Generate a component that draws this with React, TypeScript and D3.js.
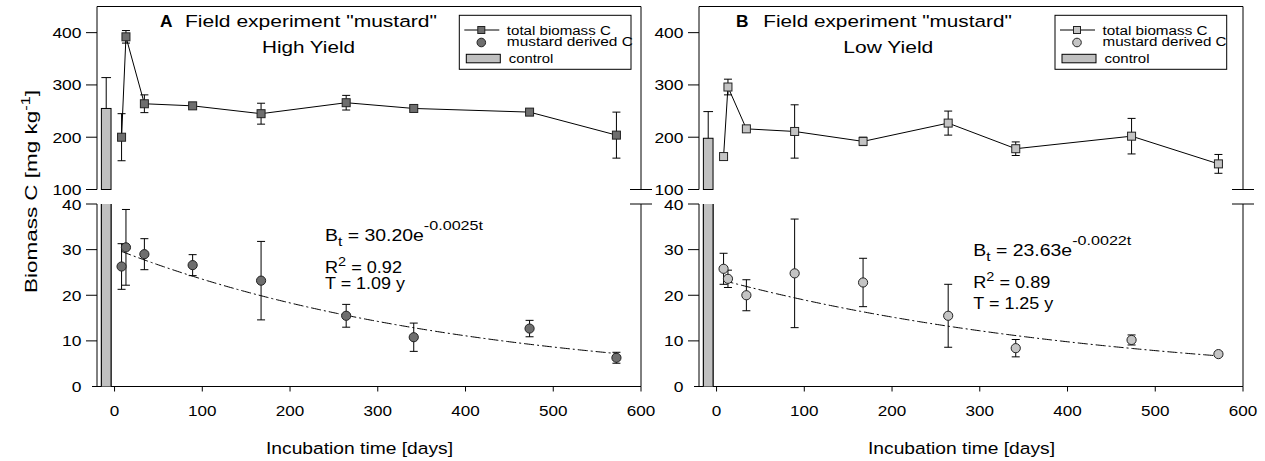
import * as d3 from 'd3';

// sampling days (same for both fields)
const days = [8, 13, 34, 89, 167, 264, 341, 473, 572];

// A: high yield
const totalA = [200, 392, 264, 260, 245, 266, 255, 248, 204];
const totalAErr = [45, 12, 17, 3, 20, 14, 3, 2, 44];
const mustardA = [26.3, 30.5, 29, 26.6, 23.2, 15.5, 10.8, 12.7, 6.3];
const mustardAErr = [5, 8.3, 3.4, 2.3, 8.6, 2.5, 3.1, 1.8, 1.2];
const controlA = 255;
const controlAErr = 59;

// B: low yield
const totalB = [163, 296, 216, 211, 192, 227, 178, 202, 149];
const totalBErr = [2, 15, 3, 51, 8, 23, 13, 34, 18];
const mustardB = [25.8, 23.6, 20, 24.8, 22.8, 15.5, 8.4, 10.2, 7.1];
const mustardBErr = [3.4, 1.9, 3.4, 11.9, 5.3, 6.9, 1.9, 1.1, 0.5];
const controlB = 198;
const controlBErr = 51;

// fitted decay B_t = a * e^(-k t)
const fitA = { a: 30.2, k: 0.0025, r2: '0.92', T: '1.09' };
const fitB = { a: 23.63, k: 0.0022, r2: '0.89', T: '1.25' };

const xTicks = [0, 100, 200, 300, 400, 500, 600];
const upperTicks = [100, 200, 300, 400];
const lowerTicks = [0, 10, 20, 30, 40];
const legendLabels = ['total biomass C', 'mustard derived C', 'control'];

const FONT = '"Liberation Sans", Arial, sans-serif';
const Y_TOP = 6.5;
const Y_BRK_UP = 189.5;
const Y_BRK_LO = 204;
const Y_BOT = 386.5;

const yUp = d3.scaleLinear().domain([100, 450]).range([Y_BRK_UP, Y_TOP]);
const yLo = d3.scaleLinear().domain([0, 40]).range([Y_BOT, Y_BRK_LO]);

type TxtProps = {
  x: number;
  y: number;
  len?: number;
  size?: number;
  anchor?: string;
  bold?: boolean;
  transform?: string;
  children: React.ReactNode;
};

function Txt({ x, y, len, size = 16.3, anchor = 'start', bold, transform, children }: TxtProps) {
  return (
    <text
      x={x}
      y={y}
      fontSize={size}
      fontFamily={FONT}
      fontWeight={bold ? 'bold' : 'normal'}
      textAnchor={anchor}
      textLength={len}
      lengthAdjust={len ? 'spacingAndGlyphs' : undefined}
      transform={transform}
      fill="#000"
    >
      {children}
    </text>
  );
}

type Layout = {
  left: number;
  letter: string;
  title: string;
  letterX: number;
  titleX: number;
  titleLen: number;
  subX: number;
  subLen: number;
  legendX: number;
  legendLens: number[];
  eqX: number;
  eqY: number;
  r2Y: number;
  tY: number;
  xTitleX: number;
  fill: string;
};

type Series = {
  total: number[];
  totalErr: number[];
  mustard: number[];
  mustardErr: number[];
  control: number;
  controlErr: number;
  fit: { a: number; k: number; r2: string; T: string };
};

function Panel({ L, S }: { L: Layout; S: Series }) {
  const x = d3.scaleLinear().domain([-20, 600]).range([L.left, L.left + 544]);
  const right = x(600);
  const left = x(-20);
  const totalLine = d3
    .line<number>()
    .x((_, i) => x(days[i]))
    .y((d) => yUp(d));
  const fitT = d3.range(days[0], days[days.length - 1] + 0.1, 2);
  const fitLine = d3
    .line<number>()
    .x((t) => x(t))
    .y((t) => yLo(S.fit.a * Math.exp(-S.fit.k * t)));
  const bx0 = x(-15);
  const bx1 = x(-4);
  const bxc = (bx0 + bx1) / 2;
  const cap = 4;
  const lx = L.legendX;

  return (
    <g>
      {/* frame, split by the axis break */}
      <g stroke="#000" strokeWidth={1} fill="none">
        <path d={`M${left},${Y_BRK_UP}V${Y_TOP}H${right}V${Y_BRK_UP}`} />
        <path d={`M${left},${Y_BRK_LO}V${Y_BOT}M${right},${Y_BRK_LO}V${Y_BOT}`} />
        <line x1={left - 5} x2={right} y1={Y_BOT} y2={Y_BOT} />
        <line x1={right - 11} x2={right + 11} y1={Y_BRK_UP} y2={Y_BRK_UP} />
        <line x1={right - 11} x2={right + 11} y1={Y_BRK_LO} y2={Y_BRK_LO} />
        {upperTicks.map((t) => (
          <line key={'u' + t} x1={left - 11} x2={left} y1={yUp(t)} y2={yUp(t)} />
        ))}
        {lowerTicks.slice(1).map((t) => (
          <line key={'l' + t} x1={left - 11} x2={left} y1={yLo(t)} y2={yLo(t)} />
        ))}
        {xTicks.map((t) => (
          <line key={'x' + t} x1={x(t)} x2={x(t)} y1={Y_BOT} y2={Y_BOT + 5} />
        ))}
      </g>

      {upperTicks.map((t) => (
        <Txt key={'ut' + t} x={left - 15.5} y={yUp(t) + 5.5} anchor="end" size={15.5} len={String(t).length * 9.7}>
          {t}
        </Txt>
      ))}
      {lowerTicks.map((t) => (
        <Txt key={'lt' + t} x={left - 15.5} y={yLo(t) + 5.5} anchor="end" size={15.5} len={String(t).length * 9.7}>
          {t}
        </Txt>
      ))}
      {xTicks.map((t) => (
        <Txt key={'xt' + t} x={x(t)} y={416} anchor="middle" size={15.5} len={String(t).length * 9.5}>
          {t}
        </Txt>
      ))}
      <Txt x={L.xTitleX} y={454} len={187}>
        Incubation time [days]
      </Txt>

      {/* control bar, drawn in both segments */}
      <g fill="#c0c0c0" stroke="#000" strokeWidth={1}>
        <rect x={bx0} y={yUp(S.control)} width={bx1 - bx0} height={Y_BRK_UP - yUp(S.control)} />
        <path d={`M${bx0},${Y_BOT}V${Y_BRK_LO}M${bx1},${Y_BRK_LO}V${Y_BOT}`} />
        <rect x={bx0} y={Y_BRK_LO} width={bx1 - bx0} height={Y_BOT - Y_BRK_LO} stroke="none" />
        <path d={`M${bx0},${Y_BOT}V${Y_BRK_LO}M${bx1},${Y_BRK_LO}V${Y_BOT}`} fill="none" />
      </g>
      <g stroke="#000" strokeWidth={1}>
        <line x1={bxc} x2={bxc} y1={yUp(S.control)} y2={yUp(S.control + S.controlErr)} />
        <line x1={bx0} x2={bx1} y1={yUp(S.control + S.controlErr)} y2={yUp(S.control + S.controlErr)} />
      </g>

      {/* total biomass C */}
      <path d={totalLine(S.total) ?? ''} fill="none" stroke="#000" strokeWidth={1} />
      <g stroke="#000" strokeWidth={1}>
        {S.total.map((v, i) => {
          const cx = x(days[i]);
          const y0 = yUp(v + S.totalErr[i]);
          const y1 = yUp(v - S.totalErr[i]);
          return (
            <g key={'te' + i}>
              <line x1={cx} x2={cx} y1={y0} y2={y1} />
              <line x1={cx - cap} x2={cx + cap} y1={y0} y2={y0} />
              <line x1={cx - cap} x2={cx + cap} y1={y1} y2={y1} />
            </g>
          );
        })}
      </g>
      {S.total.map((v, i) => (
        <rect
          key={'ts' + i}
          x={x(days[i]) - 4}
          y={yUp(v) - 4}
          width={8}
          height={8}
          fill={L.fill}
          stroke="#222"
          strokeWidth={1}
        />
      ))}

      {/* mustard derived C and fit */}
      <path d={fitLine(fitT) ?? ''} fill="none" stroke="#000" strokeWidth={1} strokeDasharray="10,3,2,3" />
      <g stroke="#000" strokeWidth={1}>
        {S.mustard.map((v, i) => {
          const cx = x(days[i]);
          const y0 = yLo(v + S.mustardErr[i]);
          const y1 = yLo(v - S.mustardErr[i]);
          return (
            <g key={'me' + i}>
              <line x1={cx} x2={cx} y1={y0} y2={y1} />
              <line x1={cx - cap} x2={cx + cap} y1={y0} y2={y0} />
              <line x1={cx - cap} x2={cx + cap} y1={y1} y2={y1} />
            </g>
          );
        })}
      </g>
      {S.mustard.map((v, i) => (
        <circle key={'mc' + i} cx={x(days[i])} cy={yLo(v)} r={4.6} fill={L.fill} stroke="#222" strokeWidth={1} />
      ))}

      {/* title */}
      <Txt x={L.letterX} y={26.7} bold len={12.5}>
        {L.letter}
      </Txt>
      <Txt x={L.titleX} y={26.7} len={L.titleLen}>
        {L.title}
      </Txt>
      <Txt x={L.subX} y={52.5} len={L.subLen}>
        {L.letter === 'A' ? 'High Yield' : 'Low Yield'}
      </Txt>

      {/* equation */}
      <Txt x={L.eqX} y={L.eqY} len={158}>
        B<tspan dy={4.5} fontSize={13}>t</tspan>
        <tspan dy={-4.5}>{` = ${S.fit.a.toFixed(2)}e`}</tspan>
        <tspan dy={-11} fontSize={13.5}>{`-${S.fit.k.toFixed(4)}t`}</tspan>
      </Txt>
      <Txt x={L.eqX} y={L.r2Y} len={77}>
        R<tspan dy={-7} fontSize={13}>2</tspan>
        <tspan dy={7}>{` = ${S.fit.r2}`}</tspan>
      </Txt>
      <Txt x={L.eqX} y={L.tY} len={80}>
        {`T = ${S.fit.T} y`}
      </Txt>

      {/* legend */}
      <rect x={lx} y={15.3} width={171.7} height={54} fill="#fff" stroke="#000" strokeWidth={1} />
      <line x1={lx + 5} x2={lx + 40} y1={30} y2={30} stroke="#000" />
      <rect x={lx + 18.5} y={26.5} width={7} height={7} fill={L.fill} stroke="#222" />
      <circle cx={lx + 22} cy={42.5} r={4.3} fill={L.fill} stroke="#222" />
      <rect x={lx + 7} y={54.3} width={34} height={8.5} fill="#c0c0c0" stroke="#000" />
      <Txt x={lx + 47.5} y={34.7} size={13.7} len={L.legendLens[0]}>
        {legendLabels[0]}
      </Txt>
      <Txt x={lx + 47.5} y={45.7} size={13.7} len={L.legendLens[1]}>
        {legendLabels[1]}
      </Txt>
      <Txt x={lx + 49.5} y={63} size={13.7} len={L.legendLens[2]}>
        {legendLabels[2]}
      </Txt>
    </g>
  );
}

const layoutA: Layout = {
  left: 97,
  letter: 'A',
  title: 'Field experiment "mustard"',
  letterX: 160,
  titleX: 185,
  titleLen: 252,
  subX: 262,
  subLen: 93,
  legendX: 459.3,
  legendLens: [104, 126, 44.5],
  eqX: 325,
  eqY: 241,
  r2Y: 273,
  tY: 289,
  xTitleX: 266,
  fill: '#6e6e6e',
};

const layoutB: Layout = {
  left: 699,
  letter: 'B',
  title: 'Field experiment "mustard"',
  letterX: 736,
  titleX: 763.3,
  titleLen: 248.5,
  subX: 843.3,
  subLen: 90,
  legendX: 1055,
  legendLens: [105, 124, 45],
  eqX: 973.3,
  eqY: 256,
  r2Y: 288,
  tY: 309,
  xTitleX: 868,
  fill: '#c4c4c4',
};

export default function App() {
  return (
    <svg
      width={1265}
      height={461}
      style={{ position: 'absolute', left: 0, top: 0, background: '#fff' }}
    >
      <Txt x={0} y={0} len={203} size={16.5} anchor="middle" transform="translate(37,191.5) rotate(-90)">
        Biomass C [mg kg<tspan dy={-7} fontSize={12}>-1</tspan>
        <tspan dy={7}>]</tspan>
      </Txt>
      <Panel
        L={layoutA}
        S={{
          total: totalA,
          totalErr: totalAErr,
          mustard: mustardA,
          mustardErr: mustardAErr,
          control: controlA,
          controlErr: controlAErr,
          fit: fitA,
        }}
      />
      <Panel
        L={layoutB}
        S={{
          total: totalB,
          totalErr: totalBErr,
          mustard: mustardB,
          mustardErr: mustardBErr,
          control: controlB,
          controlErr: controlBErr,
          fit: fitB,
        }}
      />
    </svg>
  );
}
